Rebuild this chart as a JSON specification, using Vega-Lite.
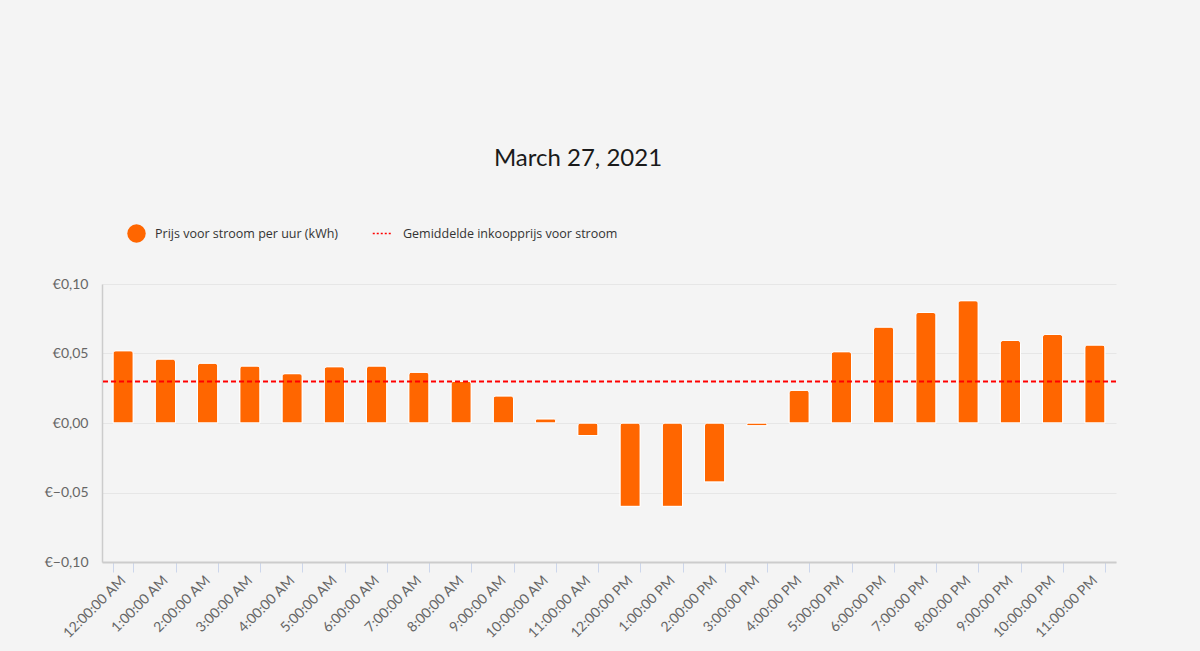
{
  "$schema": "https://vega.github.io/schema/vega-lite/v6.json",
  "autosize": {"type": "none"},
  "width": 1014,
  "height": 278,
  "padding": {"left": 102, "top": 284, "right": 84, "bottom": 89},
  "background": "#f4f4f4",
  "config": {"view": {"stroke": null}},
  "title": {
    "text": "March 27, 2021",
    "font": "Lato",
    "fontSize": 24,
    "fontWeight": "normal",
    "color": "#1a1a1a",
    "anchor": "middle",
    "frame": "group",
    "dx": -31,
    "offset": 52
  },
  "datasets": {
    "prices": [
      {"hour": "12:00:00 AM", "price": 0.052},
      {"hour": "1:00:00 AM", "price": 0.046},
      {"hour": "2:00:00 AM", "price": 0.043},
      {"hour": "3:00:00 AM", "price": 0.041},
      {"hour": "4:00:00 AM", "price": 0.0355},
      {"hour": "5:00:00 AM", "price": 0.0405},
      {"hour": "6:00:00 AM", "price": 0.041},
      {"hour": "7:00:00 AM", "price": 0.0365},
      {"hour": "8:00:00 AM", "price": 0.030},
      {"hour": "9:00:00 AM", "price": 0.0195},
      {"hour": "10:00:00 AM", "price": 0.003},
      {"hour": "11:00:00 AM", "price": -0.009},
      {"hour": "12:00:00 PM", "price": -0.060},
      {"hour": "1:00:00 PM", "price": -0.060},
      {"hour": "2:00:00 PM", "price": -0.0425},
      {"hour": "3:00:00 PM", "price": -0.002},
      {"hour": "4:00:00 PM", "price": 0.0235},
      {"hour": "5:00:00 PM", "price": 0.0513},
      {"hour": "6:00:00 PM", "price": 0.069},
      {"hour": "7:00:00 PM", "price": 0.0795},
      {"hour": "8:00:00 PM", "price": 0.088},
      {"hour": "9:00:00 PM", "price": 0.0594},
      {"hour": "10:00:00 PM", "price": 0.0637},
      {"hour": "11:00:00 PM", "price": 0.0561}
    ],
    "average": [
      {"avg": 0.0299}
    ]
  },
  "layer": [
    {
      "data": {"name": "prices"},
      "mark": {
        "type": "bar",
        "stroke": "#ffffff",
        "strokeWidth": 1,
        "cornerRadiusTopLeft": 3,
        "cornerRadiusTopRight": 3
      },
      "encoding": {
        "x": {
          "field": "hour",
          "type": "nominal",
          "sort": null,
          "scale": {"paddingInner": 0.52, "paddingOuter": 0.26},
          "axis": {
            "title": null,
            "labelAngle": -45,
            "labelAlign": "right",
            "labelBaseline": "middle",
            "labelFont": "Lato",
            "labelFontSize": 14,
            "labelColor": "#666666",
            "labelPadding": 6,
            "tickBand": "extent",
            "tickSize": 10,
            "tickColor": "#ccd6eb",
            "domainColor": "#cccccc",
            "domainWidth": 2,
            "grid": false
          }
        },
        "y": {
          "field": "price",
          "type": "quantitative",
          "scale": {"domain": [-0.1, 0.1], "nice": false, "zero": false},
          "axis": {
            "title": null,
            "values": [-0.1, -0.05, 0, 0.05, 0.1],
            "labelExpr": "'€' + replace(format(datum.value, '.2f'), '.', ',')",
            "labelFont": "Lato",
            "labelFontSize": 14,
            "labelColor": "#666666",
            "labelPadding": 14,
            "ticks": false,
            "domain": true,
            "domainColor": "#cccccc",
            "domainWidth": 1.5,
            "grid": true,
            "gridColor": "#e6e6e6",
            "gridWidth": 1
          }
        },
        "color": {
          "datum": "Prijs voor stroom per uur (kWh)",
          "type": "nominal",
          "scale": {"range": ["#ff6600"]},
          "legend": {
            "title": null,
            "orient": "none",
            "legendX": 25,
            "legendY": -60,
            "padding": 0,
            "symbolType": "circle",
            "symbolSize": 340,
            "symbolStrokeWidth": 0,
            "labelOffset": 9,
            "labelFont": "Open Sans",
            "labelFontSize": 12.5,
            "labelColor": "#333333",
            "labelLimit": 400
          }
        }
      }
    },
    {
      "data": {"name": "average"},
      "mark": {"type": "rule", "strokeWidth": 2, "strokeDash": [5, 3]},
      "encoding": {
        "y": {"field": "avg", "type": "quantitative"},
        "stroke": {
          "datum": "Gemiddelde inkoopprijs voor stroom",
          "type": "nominal",
          "scale": {"range": ["#ff0000"]},
          "legend": {
            "title": null,
            "orient": "none",
            "legendX": 270,
            "legendY": -61,
            "padding": 0,
            "symbolType": "stroke",
            "symbolSize": 380,
            "symbolStrokeWidth": 1.5,
            "symbolDash": [2, 2],
            "labelOffset": 10,
            "labelFont": "Open Sans",
            "labelFontSize": 12.5,
            "labelColor": "#333333",
            "labelLimit": 400
          }
        }
      }
    }
  ]
}
